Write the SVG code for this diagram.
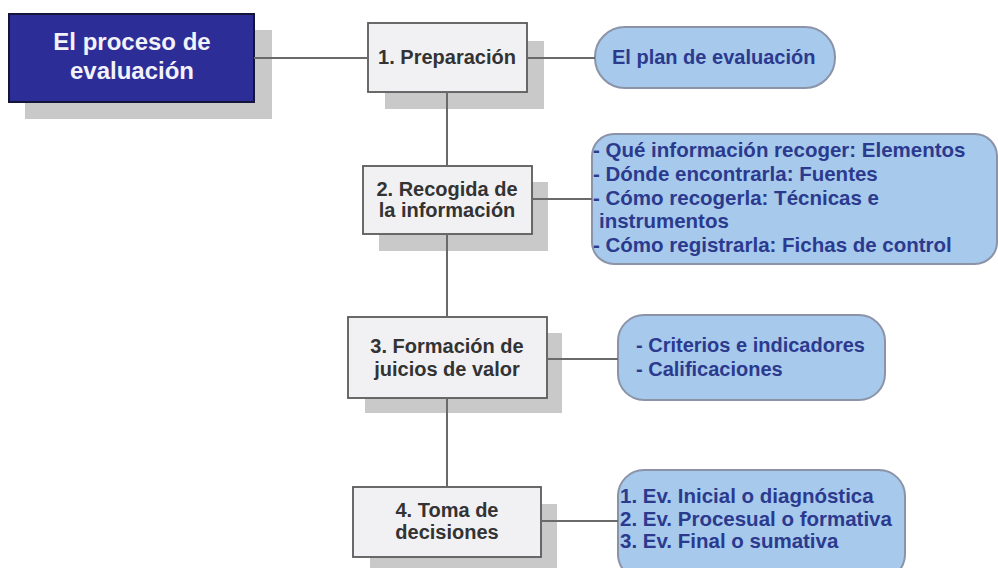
<svg xmlns="http://www.w3.org/2000/svg" width="998" height="568" viewBox="0 0 998 568">
<style>
.sh{fill:#c9c9c9}
.main{fill:#2d2d98;stroke:#15153a;stroke-width:2}
.mt{font-family:"Liberation Sans",Arial,sans-serif;font-weight:bold;font-size:24px;fill:#f2f2fa;text-anchor:middle}
.box{fill:#f1f1f3;stroke:#5a5a5a;stroke-width:1.8}
.bt{font-family:"Liberation Sans",Arial,sans-serif;font-weight:bold;font-size:20px;fill:#333;text-anchor:middle}
.pill{fill:#a6c9ec;stroke:#8b93a8;stroke-width:2}
.pt{font-family:"Liberation Sans",Arial,sans-serif;font-weight:bold;font-size:20px;fill:#2c3a8e}
.pw{font-size:20.5px}
.con{stroke:#6a6a6a;stroke-width:2;fill:none}
</style>
<rect width="998" height="568" fill="#ffffff"/>
<g id="main">
<rect class="sh" x="25" y="30" width="247" height="89"/>
<rect class="main" x="9" y="14" width="245" height="88"/>
<text class="mt" x="132" y="50">El proceso de</text>
<text class="mt" x="132" y="79">evaluación</text>
</g>
<g id="step1">
<rect class="sh" x="385" y="41" width="159" height="68"/>
<rect class="box" x="368" y="23" width="159" height="69"/>
<text class="bt" x="447" y="64">1. Preparación</text>
</g>
<g id="step2">
<rect class="sh" x="379" y="182" width="169" height="69"/>
<rect class="box" x="363" y="166" width="169" height="68"/>
<text class="bt" x="447" y="196">2. Recogida de</text>
<text class="bt" x="447" y="217">la información</text>
</g>
<g id="step3">
<rect class="sh" x="365" y="333" width="197" height="80"/>
<rect class="box" x="348" y="317" width="199" height="81"/>
<text class="bt" x="447" y="353">3. Formación de</text>
<text class="bt" x="447" y="376">juicios de valor</text>
</g>
<g id="step4">
<rect class="sh" x="370" y="504" width="187" height="70"/>
<rect class="box" x="353" y="487" width="188" height="70"/>
<text class="bt" x="447" y="517">4. Toma de</text>
<text class="bt" x="447" y="539">decisiones</text>
</g>
<g id="detail1">
<rect class="pill" x="595" y="27" width="240" height="61" rx="30"/>
<text class="pt" x="612" y="64">El plan de evaluación</text>
</g>
<g id="detail2">
<rect class="pill" x="592" y="134" width="405" height="130" rx="22"/>
<text class="pt pw" x="593" y="157">- Qué información recoger: Elementos</text>
<text class="pt pw" x="593" y="181">- Dónde encontrarla: Fuentes</text>
<text class="pt pw" x="593" y="205">- Cómo recogerla: Técnicas e</text>
<text class="pt pw" x="599" y="228">instrumentos</text>
<text class="pt pw" x="593" y="252">- Cómo registrarla: Fichas de control</text>
</g>
<g id="detail3">
<rect class="pill" x="618" y="315" width="267" height="85" rx="26"/>
<text class="pt" x="636" y="352">- Criterios e indicadores</text>
<text class="pt" x="636" y="376">- Calificaciones</text>
</g>
<g id="detail4">
<rect class="pill" x="618" y="470" width="287" height="110" rx="26"/>
<text class="pt pw" x="620" y="503">1. Ev. Inicial o diagnóstica</text>
<text class="pt pw" x="620" y="526">2. Ev. Procesual o formativa</text>
<text class="pt pw" x="620" y="548">3. Ev. Final o sumativa</text>
</g>
<g id="connectors">
<line class="con" x1="254" y1="58" x2="368" y2="58"/>
<line class="con" x1="527" y1="58" x2="595" y2="58"/>
<line class="con" x1="447" y1="92" x2="447" y2="166"/>
<line class="con" x1="447" y1="234" x2="447" y2="317"/>
<line class="con" x1="447" y1="398" x2="447" y2="487"/>
<line class="con" x1="532" y1="199" x2="592" y2="199"/>
<line class="con" x1="547" y1="359" x2="618" y2="359"/>
<line class="con" x1="541" y1="521" x2="618" y2="521"/>
</g>
</svg>
